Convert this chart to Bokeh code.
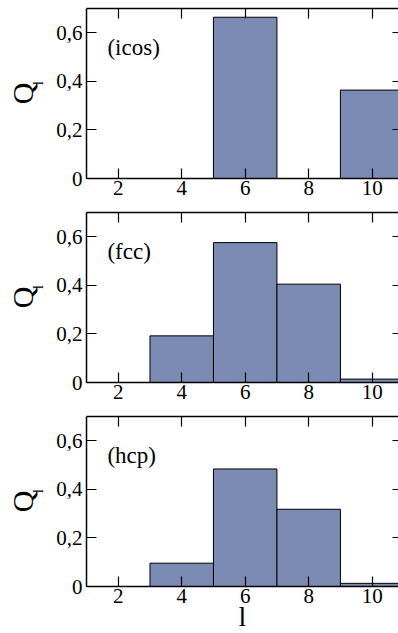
from bokeh.plotting import figure
from bokeh.layouts import column
from bokeh.models import LinearAxis, Range1d, FixedTicker
from bokeh.core.properties import value
from bokeh.embed import file_html
from bokeh.resources import INLINE

# ---- data ----
l_values = [2, 4, 6, 8, 10]
q_icos = [0.0, 0.0, 0.664, 0.0, 0.364]
q_fcc = [0.0, 0.192, 0.576, 0.405, 0.014]
q_hcp = [0.0, 0.096, 0.484, 0.318, 0.013]
panel_names = ["(icos)", "(fcc)", "(hcp)"]
x_ticks = [2, 4, 6, 8, 10]
y_ticks = [0, 0.2, 0.4, 0.6]
y_tick_labels = ["0", "0,2", "0,4", "0,6"]
x_axis_title = "l"
y_axis_title = "Q"
y_axis_sub = "\u00a0" * 6 + "l"

FONT = "'Liberation Serif', 'Times New Roman', serif"
FONT_VALUE = value(FONT)
BAR_COLOR = "#7b8bb3"
X_START, X_END = 1.0, 10.83
Y_START, Y_END = 0.0, 0.7


def blank_axis(ax):
    ax.axis_line_color = None
    ax.major_tick_line_color = None
    ax.minor_tick_line_color = None
    ax.major_tick_in = 0
    ax.major_tick_out = 0
    ax.minor_tick_in = 0
    ax.minor_tick_out = 0
    ax.major_label_text_font_size = "0px"
    ax.major_label_standoff = 0


def style_axis(ax, labels=True):
    ax.axis_line_width = 1.5
    ax.major_tick_line_width = 1.2
    ax.minor_tick_line_width = 1.2
    ax.major_tick_in = 10
    ax.major_tick_out = 0
    ax.minor_tick_in = 5
    ax.minor_tick_out = 0
    ax.major_label_text_font = FONT
    ax.major_label_text_color = "black"
    ax.axis_label_text_font = FONT
    ax.axis_label_text_font_style = "normal"
    ax.axis_label_text_color = "black"
    if labels:
        ax.major_label_text_font_size = "21px"
    else:
        ax.major_label_text_font_size = "0px"
        ax.major_label_standoff = 0


def make_panel(vals, name, last):
    p = figure(frame_width=312, frame_height=170,
               x_range=Range1d(X_START, X_END), y_range=Range1d(Y_START, Y_END),
               output_backend="svg", toolbar_location=None,
               min_border_left=86, min_border_right=0, min_border_top=8,
               min_border_bottom=46 if last else 26)
    p.outline_line_color = None
    p.grid.visible = False
    p.background_fill_color = "white"

    p.vbar(x=l_values, top=vals, width=2, bottom=0,
           fill_color=BAR_COLOR, line_color="black", line_width=1)

    p.xaxis.ticker = FixedTicker(ticks=x_ticks, num_minor_ticks=2)
    p.yaxis.ticker = FixedTicker(ticks=y_ticks, num_minor_ticks=2)
    style_axis(p.xaxis[0])
    style_axis(p.yaxis[0])
    p.xaxis.major_label_standoff = 2
    p.yaxis.major_label_standoff = 4
    p.yaxis.major_label_overrides = {t: s for t, s in zip(y_ticks, y_tick_labels)}

    # subscript "l" of Q as the inner y-axis title
    p.yaxis.axis_label = y_axis_sub
    p.yaxis.axis_label_text_font_size = "14px"
    p.yaxis.axis_label_standoff = 7

    # outer axis carrying the "Q"
    qax = LinearAxis(ticker=FixedTicker(ticks=[]))
    blank_axis(qax)
    qax.axis_label = y_axis_title
    qax.axis_label_text_font = FONT
    qax.axis_label_text_font_style = "normal"
    qax.axis_label_text_font_size = "30px"
    qax.axis_label_text_color = "black"
    qax.axis_label_standoff = -10
    p.add_layout(qax, "left")

    if last:
        p.xaxis.axis_label = x_axis_title
        p.xaxis.axis_label_text_font_size = "28px"
        p.xaxis.axis_label_standoff = -5

    top = LinearAxis(ticker=FixedTicker(ticks=x_ticks, num_minor_ticks=2))
    style_axis(top, labels=False)
    p.add_layout(top, "above")

    right = LinearAxis(ticker=FixedTicker(ticks=y_ticks, num_minor_ticks=2))
    style_axis(right, labels=False)
    right.axis_line_color = None
    right.major_tick_in = 6
    right.minor_tick_in = 2
    p.add_layout(right, "right")

    # panel name
    p.text(x=[1.66], y=[0.54], text=[name], text_font=FONT_VALUE,
           text_font_size="23px", text_baseline="middle",
           text_align="left", text_color="black")
    return p


panels = [make_panel(v, n, i == 2) for i, (v, n) in
          enumerate(zip([q_icos, q_fcc, q_hcp], panel_names))]
layout = column(*panels, spacing=0)

open("out.html", "w").write(file_html(layout, INLINE))
